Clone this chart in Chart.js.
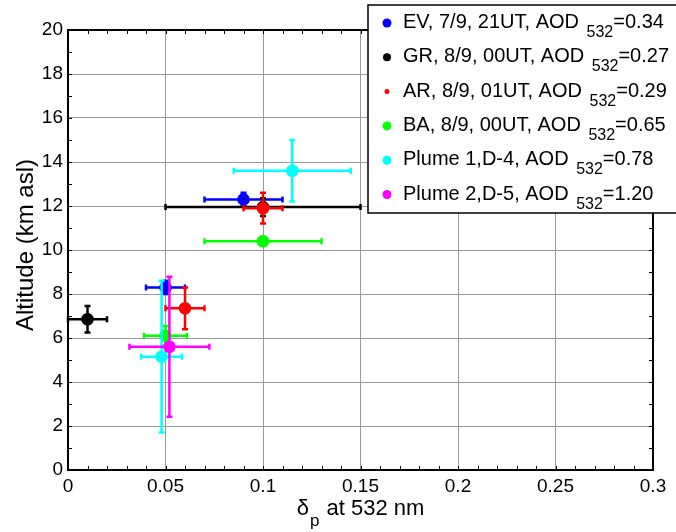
<!DOCTYPE html>
<html>
<head>
<meta charset="utf-8">
<script src="https://cdn.jsdelivr.net/npm/chart.js@4.4.1/dist/chart.umd.min.js"></script>
<style>
  html, body { margin: 0; padding: 0; background: #fff; }
  #wrap { position: relative; width: 676px; height: 532px; }
</style>
</head>
<body>
<div id="wrap"><canvas id="depol"></canvas></div>
<script>
const xTicks = [0, 0.05, 0.1, 0.15, 0.2, 0.25, 0.3];
const yTicks = [0, 2, 4, 6, 8, 10, 12, 14, 16, 18, 20];

const siteNames = ["EV, 7/9, 21UT", "GR, 8/9, 00UT", "AR, 8/9, 01UT", "BA, 8/9, 00UT", "Plume 1,D-4", "Plume 2,D-5"];
const aodValues = ["0.34", "0.27", "0.29", "0.65", "0.78", "1.20"];
const siteColors = ["#0000ff", "#000000", "#ff0000", "#00ff00", "#00ffff", "#ff00ff"];
const legendDotRadius = [4.5, 4, 2.5, 4.5, 4.5, 4.5];

// depolarization ratio, altitude and their uncertainties per site
const evDelta = [0.05, 0.09];
const evAlt = [8.3, 12.3];
const evDeltaErr = [0.01, 0.02];
const evAltErr = [0.3, 0.3];

const grDelta = [0.01, 0.1];
const grAlt = [6.85, 11.95];
const grDeltaErr = [0.01, 0.05];
const grAltErr = [0.6, 0.4];

const arDelta = [0.06, 0.1];
const arAlt = [7.35, 11.9];
const arDeltaErr = [0.01, 0.01];
const arAltErr = [0.95, 0.7];

const baDelta = [0.05, 0.1];
const baAlt = [6.1, 10.4];
const baDeltaErr = [0.011, 0.03];
const baAltErr = [0.45, 0.2];

const p1Delta = [0.048, 0.115];
const p1Alt = [5.15, 13.6];
const p1DeltaErr = [0.0105, 0.03];
const p1AltErr = [3.45, 1.4];

const p2Delta = [0.052];
const p2Alt = [5.6];
const p2DeltaErr = [0.0205];
const p2AltErr = [3.18];

const series = [
  [evDelta, evAlt, evDeltaErr, evAltErr],
  [grDelta, grAlt, grDeltaErr, grAltErr],
  [arDelta, arAlt, arDeltaErr, arAltErr],
  [baDelta, baAlt, baDeltaErr, baAltErr],
  [p1Delta, p1Alt, p1DeltaErr, p1AltErr],
  [p2Delta, p2Alt, p2DeltaErr, p2AltErr],
];

const FONT = "'Liberation Sans', Arial, sans-serif";

const datasets = series.map(([xs, ys, ex, ey], i) => ({
  label: siteNames[i] + ", AOD 532=" + aodValues[i],
  data: xs.map((x, j) => ({ x, y: ys[j] })),
  errX: ex,
  errY: ey,
  backgroundColor: siteColors[i],
  borderColor: siteColors[i],
  pointRadius: 6.3,
  pointBorderWidth: 0,
  order: -i,
}));

// error bars, drawn right before each dataset's markers
const errorBars = {
  id: "errorBars",
  beforeDatasetDraw(chart, args) {
    const ds = chart.data.datasets[args.index];
    const sx = chart.scales.x, sy = chart.scales.y;
    const ctx = chart.ctx;
    const cap = 3;
    ctx.save();
    ctx.strokeStyle = ds.borderColor;
    ctx.lineWidth = 2.5;
    ds.data.forEach((p, j) => {
      const x0 = sx.getPixelForValue(p.x - ds.errX[j]);
      const x1 = sx.getPixelForValue(p.x + ds.errX[j]);
      const y0 = sy.getPixelForValue(p.y - ds.errY[j]);
      const y1 = sy.getPixelForValue(p.y + ds.errY[j]);
      const cx = sx.getPixelForValue(p.x);
      const cy = sy.getPixelForValue(p.y);
      ctx.beginPath();
      ctx.moveTo(x0, cy); ctx.lineTo(x1, cy);
      ctx.moveTo(cx, y0); ctx.lineTo(cx, y1);
      ctx.moveTo(x0, cy - cap); ctx.lineTo(x0, cy + cap);
      ctx.moveTo(x1, cy - cap); ctx.lineTo(x1, cy + cap);
      ctx.moveTo(cx - cap, y0); ctx.lineTo(cx + cap, y0);
      ctx.moveTo(cx - cap, y1); ctx.lineTo(cx + cap, y1);
      ctx.stroke();
    });
    ctx.restore();
  },
};

// box frame with inward ticks on all four sides, plus axis titles
const frame = {
  id: "frame",
  afterDatasetsDraw(chart) {
    const { ctx, chartArea: a } = chart;
    const sx = chart.scales.x, sy = chart.scales.y;
    ctx.save();
    ctx.strokeStyle = "#000";
    ctx.lineWidth = 1;
    ctx.beginPath();
    for (let k = 1; k < 30; k++) {
      const px = Math.round(sx.getPixelForValue(k / 100)) + 0.5;
      ctx.moveTo(px, a.bottom); ctx.lineTo(px, a.bottom - 4);
      ctx.moveTo(px, a.top); ctx.lineTo(px, a.top + 4);
    }
    for (let k = 1; k < 20; k++) {
      const py = Math.round(sy.getPixelForValue(k)) + 0.5;
      ctx.moveTo(a.left, py); ctx.lineTo(a.left + 4, py);
      ctx.moveTo(a.right, py); ctx.lineTo(a.right - 4, py);
    }
    ctx.stroke();
    ctx.lineWidth = 2;
    ctx.strokeRect(a.left, a.top, a.right - a.left, a.bottom - a.top);

    ctx.fillStyle = "#000";
    ctx.textBaseline = "alphabetic";
    // y title
    ctx.save();
    ctx.translate(33, 245);
    ctx.rotate(-Math.PI / 2);
    ctx.font = "24px " + FONT;
    ctx.textAlign = "center";
    ctx.fillText("Altitude (km asl)", 0, 0);
    ctx.restore();
    // x title: delta with subscript p
    ctx.font = "22px " + FONT;
    const d = "\u03b4", rest = " at 532 nm";
    const wd = ctx.measureText(d).width, wr = ctx.measureText(rest).width;
    ctx.font = "17px " + FONT;
    const wp = ctx.measureText("p").width;
    let x = (a.left + a.right) / 2 - (wd + wp + 2 + wr) / 2;
    ctx.font = "22px " + FONT;
    ctx.textAlign = "left";
    ctx.fillText(d, x, 515);
    ctx.font = "17px " + FONT;
    ctx.fillText("p", x + wd + 1, 526);
    ctx.font = "22px " + FONT;
    ctx.fillText(rest, x + wd + wp + 2, 515);
    ctx.restore();
  },
};

// legend box with AOD subscripts
const aodLegend = {
  id: "aodLegend",
  afterDraw(chart) {
    const ctx = chart.ctx;
    ctx.save();
    ctx.fillStyle = "#fff";
    ctx.fillRect(368, 5, 320, 208);
    ctx.strokeStyle = "#000";
    ctx.lineWidth = 1.5;
    ctx.strokeRect(368, 5, 320, 208);
    ctx.textAlign = "left";
    ctx.textBaseline = "alphabetic";
    siteNames.forEach((name, i) => {
      const rowY = 23 + i * 34.3;
      ctx.fillStyle = siteColors[i];
      ctx.beginPath();
      ctx.arc(387, rowY, legendDotRadius[i], 0, Math.PI * 2);
      ctx.fill();
      ctx.fillStyle = "#000";
      const base = rowY + 5;
      let x = 403;
      ctx.font = "20px " + FONT;
      const main = name + ", AOD ";
      ctx.fillText(main, x, base);
      x += ctx.measureText(main).width + 2;
      ctx.font = "16px " + FONT;
      ctx.fillText("532", x, base + 9);
      x += ctx.measureText("532").width;
      ctx.font = "20px " + FONT;
      ctx.fillText("=" + aodValues[i], x, base);
    });
    ctx.restore();
  },
};

new Chart(document.getElementById("depol"), {
  type: "scatter",
  data: { datasets },
  plugins: [errorBars, frame, aodLegend],
  options: {
    responsive: true,
    maintainAspectRatio: false,
    animation: false,
    events: [],
    layout: { padding: { top: 30, right: 23, left: 0, bottom: 0 } },
    plugins: { legend: { display: false }, tooltip: { enabled: false } },
    scales: {
      x: {
        type: "linear",
        min: 0,
        max: 0.3,
        afterBuildTicks: (s) => { s.ticks = xTicks.map((v) => ({ value: v })); },
        afterFit: (s) => { s.height = 62; },
        grid: { color: "#9a9a9a", lineWidth: 1, drawTicks: false },
        border: { display: false },
        ticks: {
          color: "#000",
          padding: 5,
          font: { family: FONT, size: 19 },
          callback: (v) => String(v),
        },
      },
      y: {
        type: "linear",
        min: 0,
        max: 20,
        afterBuildTicks: (s) => { s.ticks = yTicks.map((v) => ({ value: v })); },
        afterFit: (s) => { s.width = 68; },
        grid: { color: "#9a9a9a", lineWidth: 1, drawTicks: false },
        border: { display: false },
        ticks: {
          color: "#000",
          padding: 5,
          font: { family: FONT, size: 19 },
          callback: (v) => String(v),
        },
      },
    },
  },
});
</script>
</body>
</html>
